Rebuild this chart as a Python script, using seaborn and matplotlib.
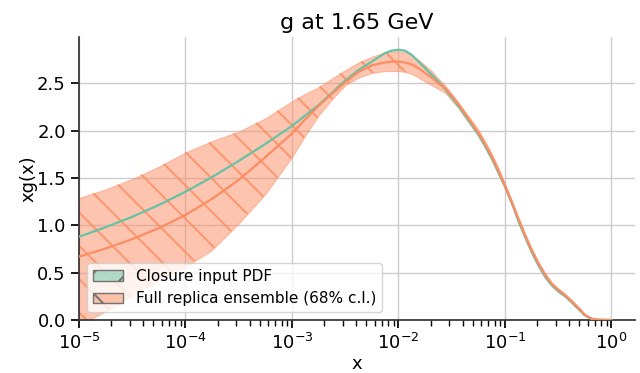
import numpy as np
import pandas as pd
import matplotlib
matplotlib.use("Agg")
import matplotlib.pyplot as plt
import seaborn as sns
from matplotlib.patches import Patch

# ---- data ----
x = [1.0e-5, 1.778e-5, 3.162e-5, 5.623e-5, 1.0e-4, 1.778e-4, 3.162e-4, 5.623e-4,
     1.0e-3, 1.334e-3, 1.778e-3, 2.371e-3, 3.162e-3, 4.217e-3, 5.623e-3, 7.499e-3,
     8.660e-3, 1.0e-2, 1.155e-2, 1.334e-2, 1.540e-2, 1.778e-2, 2.054e-2, 2.371e-2,
     2.738e-2, 3.162e-2, 3.652e-2, 4.217e-2, 4.870e-2, 5.623e-2, 6.494e-2, 7.499e-2,
     8.660e-2, 1.0e-1, 1.155e-1, 1.334e-1, 1.540e-1, 1.778e-1, 2.054e-1, 2.371e-1,
     2.738e-1, 3.162e-1, 3.652e-1, 4.217e-1, 4.870e-1, 5.623e-1, 6.494e-1, 7.499e-1,
     1.0]

closure = [0.88, 0.98, 1.09, 1.215, 1.355, 1.51, 1.68, 1.86, 2.05, 2.16, 2.27, 2.40,
           2.53, 2.64, 2.73, 2.82, 2.845, 2.855, 2.845, 2.80, 2.73, 2.66, 2.59, 2.52,
           2.44, 2.35, 2.26, 2.16, 2.06, 1.96, 1.84, 1.71, 1.56, 1.41, 1.24, 1.05,
           0.88, 0.72, 0.58, 0.46, 0.37, 0.305, 0.255, 0.19, 0.12, 0.05, 0.012, 0.003,
           0.0]

central = [0.67, 0.755, 0.855, 0.97, 1.11, 1.28, 1.48, 1.72, 1.97, 2.12, 2.26, 2.39,
           2.51, 2.62, 2.69, 2.72, 2.728, 2.73, 2.72, 2.70, 2.66, 2.61, 2.56, 2.50,
           2.45, 2.37, 2.28, 2.18, 2.08, 1.98, 1.86, 1.73, 1.58, 1.42, 1.25, 1.07,
           0.90, 0.74, 0.60, 0.48, 0.385, 0.32, 0.265, 0.20, 0.13, 0.055, 0.015, 0.004,
           0.0]

upper = [1.29, 1.38, 1.49, 1.62, 1.77, 1.89, 1.99, 2.13, 2.31, 2.39, 2.46, 2.55,
         2.64, 2.72, 2.78, 2.83, 2.835, 2.84, 2.83, 2.80, 2.75, 2.69, 2.63, 2.55,
         2.48, 2.39, 2.30, 2.20, 2.11, 2.01, 1.89, 1.76, 1.61, 1.44, 1.27, 1.09,
         0.92, 0.76, 0.62, 0.50, 0.40, 0.335, 0.28, 0.215, 0.14, 0.065, 0.02, 0.006,
         0.0]

lower = [-0.05, 0.09, 0.26, 0.42, 0.56, 0.74, 1.02, 1.33, 1.72, 1.95, 2.16, 2.33,
         2.48, 2.56, 2.61, 2.63, 2.63, 2.63, 2.62, 2.60, 2.56, 2.52, 2.48, 2.44,
         2.40, 2.32, 2.24, 2.14, 2.04, 1.94, 1.82, 1.69, 1.54, 1.39, 1.22, 1.03,
         0.87, 0.71, 0.57, 0.45, 0.36, 0.295, 0.245, 0.18, 0.11, 0.045, 0.01, 0.002,
         0.0]

title = "g at 1.65 GeV"
labels = ["Closure input PDF", "Full replica ensemble (68% c.l.)"]

# ---- styling ----
sns.set_theme(style="ticks", context="notebook")
plt.rcParams["font.family"] = ["DejaVu Sans"]
plt.rcParams.update({"text.color": "black", "axes.labelcolor": "black",
                     "xtick.color": "black", "ytick.color": "black",
                     "axes.edgecolor": ".2", "hatch.linewidth": 1.4})
pal = sns.color_palette("Set2")
green, orange = pal[0], pal[1]

df = pd.DataFrame({"x": x, "closure": closure, "central": central,
                   "upper": upper, "lower": lower})

fig, ax = plt.subplots(figsize=(6.4, 3.73), dpi=100)
fig.subplots_adjust(left=0.1234, right=0.992, bottom=0.142, top=0.901)

ax.fill_between(df["x"], df["lower"], df["upper"], facecolor=orange,
                edgecolor=orange, alpha=0.5, linewidth=0.8, zorder=2)
ax.fill_between(df["x"], df["lower"], df["upper"], facecolor="none",
                edgecolor=(*orange, 0.85), hatch="\\", linewidth=0, zorder=2.1)
sns.lineplot(data=df, x="x", y="closure", color=green, lw=1.6, ax=ax, zorder=3)
sns.lineplot(data=df, x="x", y="central", color=orange, lw=1.6, ax=ax, zorder=3)

ax.set_xscale("log")
ax.set_xlim(1e-5, 1.66)
ax.set_ylim(0, 2.99)
ax.set_yticks([0.0, 0.5, 1.0, 1.5, 2.0, 2.5])
ax.grid(True, which="major", color=".8", lw=1.0)
ax.set_axisbelow(True)
sns.despine(ax=ax)

ax.set_title(title, fontsize=16)
ax.set_xlabel("x", fontsize=13, labelpad=1)
ax.set_ylabel("xg(x)", fontsize=13, labelpad=0)
ax.tick_params(axis="both", which="major", labelsize=13)

handles = [Patch(facecolor=(*green, 0.5), edgecolor="0.45", hatch="/"),
           Patch(facecolor=(*orange, 0.5), edgecolor="0.45", hatch="\\")]
ax.legend(handles, labels, loc="lower left", fontsize=11, framealpha=0.8)

fig.savefig("out.png", dpi=100)
